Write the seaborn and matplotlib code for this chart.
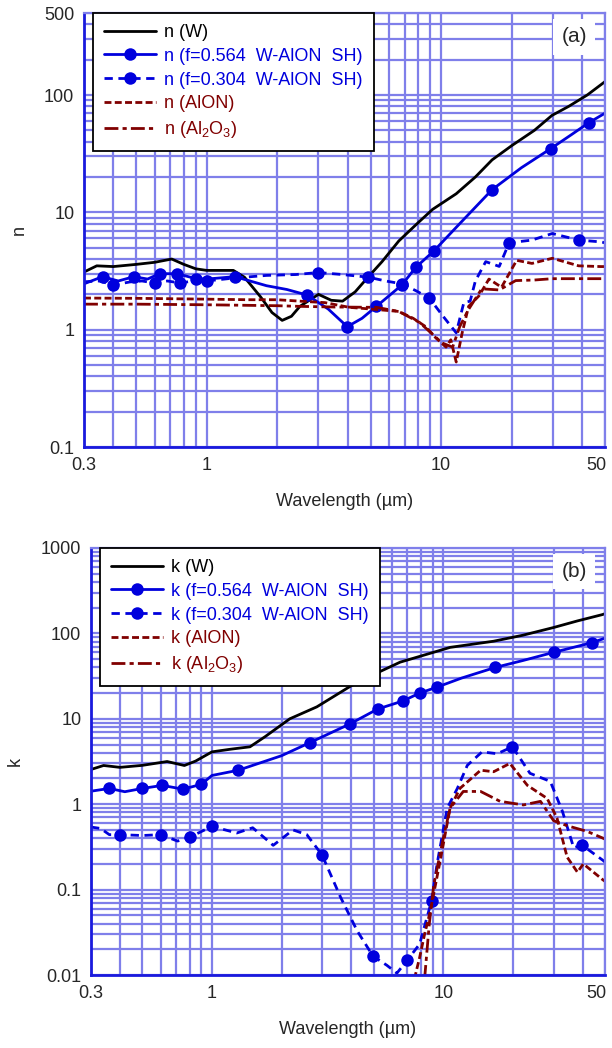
import numpy as np
import matplotlib
matplotlib.use("Agg")
import matplotlib.pyplot as plt
from matplotlib.ticker import LogLocator, NullFormatter, FixedLocator, FixedFormatter
from matplotlib.transforms import ScaledTranslation
import seaborn as sns

# ---- panel (a): refractive index n ----
nW_wl = [0.3, 0.34, 0.4, 0.5, 0.6, 0.71, 0.8, 0.9, 1.0, 1.15, 1.3, 1.45, 1.7, 1.9, 2.1, 2.3, 2.5,
         3.0, 3.4, 3.8, 4.3, 4.8, 5.6, 6.6, 8.0, 9.2, 11.6, 14, 16.5, 20, 25, 29.7, 35, 42, 50]
nW = [3.1, 3.5, 3.45, 3.6, 3.75, 4.0, 3.6, 3.3, 3.2, 3.2, 3.2, 2.8, 1.9, 1.4, 1.2, 1.3, 1.58,
      2.0, 1.78, 1.75, 2.1, 2.7, 3.8, 5.7, 8.2, 10.6, 14.4, 20, 28, 37, 50, 67, 80, 100, 130]

n564_wl = [0.3, 0.36, 0.42, 0.49, 0.56, 0.63, 0.75, 0.9, 1.0, 1.32, 1.8, 2.2, 2.69, 3.3, 3.98, 4.6,
           5.3, 6.8, 7.8, 9.3, 12, 16.5, 22, 29.4, 36, 42.6, 50]
n564 = [2.46, 2.83, 2.6, 2.83, 2.7, 3.0, 3.0, 2.72, 2.7, 2.83, 2.37, 2.2, 1.97, 1.5, 1.06, 1.25,
        1.58, 2.4, 3.4, 4.67, 8.0, 15.6, 24, 35, 46, 58, 70]
n564_marks = [0.36, 0.49, 0.63, 0.75, 0.9, 1.32, 2.69, 3.98, 5.3, 6.8, 7.8, 9.3, 16.5, 29.4, 42.6]

n304_wl = [0.3, 0.35, 0.4, 0.47, 0.53, 0.6, 0.68, 0.77, 0.88, 1.0, 1.3, 1.8, 2.4, 3.0, 3.8, 4.9,
           5.8, 6.8, 7.8, 8.9, 10.2, 11.6, 12.5, 13.3, 14.0, 15.5, 17.7, 19.5, 24.4, 29.8, 38.6, 48, 50]
n304 = [2.56, 2.6, 2.4, 2.55, 2.6, 2.5, 2.6, 2.5, 2.6, 2.6, 2.75, 2.9, 2.95, 3.07, 2.95, 2.8,
        2.6, 2.46, 2.15, 1.86, 1.3, 0.94, 1.7, 1.75, 2.6, 3.8, 3.46, 5.5, 5.8, 6.6, 5.8, 5.6, 5.5]
n304_marks = [0.4, 0.6, 0.77, 1.0, 3.0, 4.9, 6.8, 8.9, 19.5, 38.6]

nAlON_wl = [0.3, 0.5, 1.0, 1.5, 2.0, 2.5, 3.2, 4.06, 5.0, 6.6, 7.6, 8.6, 9.5, 10.5, 11.0, 11.6,
            12.3, 13.1, 14.5, 16.0, 18.1, 21, 24.4, 29.8, 38.6, 48, 50]
nAlON = [1.86, 1.85, 1.82, 1.8, 1.8, 1.75, 1.7, 1.55, 1.5, 1.43, 1.25, 1.06, 0.85, 0.71, 0.82, 0.53,
         0.94, 1.58, 1.94, 2.7, 2.3, 3.9, 3.67, 4.06, 3.5, 3.45, 3.45]

nAl2O3_wl = [0.3, 0.5, 1.0, 2.0, 2.5, 3.5, 5.3, 6.6, 8.1, 9.0, 10.1, 11.2, 12.0, 13.1, 14.9, 17.7,
             20.8, 25, 29.8, 40, 50]
nAl2O3 = [1.65, 1.65, 1.63, 1.6, 1.58, 1.56, 1.55, 1.43, 1.15, 0.95, 0.77, 0.71, 1.06, 1.49, 2.23, 2.18,
          2.62, 2.65, 2.72, 2.72, 2.72]

# ---- panel (b): extinction coefficient k ----
kW_wl = [0.3, 0.34, 0.4, 0.5, 0.64, 0.76, 0.85, 1.0, 1.2, 1.46, 1.7, 2.17, 2.84, 3.96, 5.0, 6.5,
         8.5, 10.7, 16.5, 22, 29.9, 38, 48.7, 50]
kW = [2.55, 2.84, 2.7, 2.85, 3.16, 2.84, 3.2, 4.1, 4.4, 4.7, 6.2, 10, 13.8, 24, 33, 46,
      57, 68.6, 81, 95, 117, 140, 166, 170]

k564_wl = [0.3, 0.36, 0.42, 0.5, 0.61, 0.75, 0.9, 1.0, 1.3, 2.0, 2.65, 3.96, 5.2, 6.7, 7.9, 9.4,
           12, 16.8, 22, 30, 44, 50]
k564 = [1.42, 1.53, 1.4, 1.53, 1.66, 1.5, 1.71, 2.17, 2.5, 3.7, 5.26, 8.75, 13, 16.2, 20, 23.5,
        30, 40, 48, 60, 78, 88]
k564_marks = [0.36, 0.5, 0.61, 0.75, 0.9, 1.3, 2.65, 3.96, 5.2, 6.7, 7.9, 9.4, 16.8, 30, 44]

k304_wl = [0.3, 0.33, 0.36, 0.4, 0.5, 0.6, 0.71, 0.8, 1.0, 1.28, 1.5, 1.84, 2.24, 2.57, 2.99, 3.6,
           4.24, 4.97, 5.7, 6.3, 7.0, 7.9, 8.9, 9.4, 10.4, 11.5, 12.7, 14.7, 17.1, 19.9, 23.7, 29.0,
           32.7, 36.6, 39.9, 49, 50]
k304 = [0.54, 0.52, 0.44, 0.44, 0.43, 0.44, 0.37, 0.41, 0.55, 0.46, 0.53, 0.33, 0.5, 0.44, 0.255, 0.081,
        0.033, 0.0166, 0.013, 0.0105, 0.015, 0.023, 0.074, 0.2, 0.9, 1.53, 2.85, 4.1, 3.9, 4.7, 2.3, 1.85,
        0.83, 0.31, 0.33, 0.22, 0.21]
k304_marks = [0.4, 0.6, 0.8, 1.0, 2.99, 4.97, 7.0, 8.9, 19.9, 39.9]

kAlON_wl = [7.5, 7.9, 8.3, 8.8, 9.7, 10.7, 11.8, 14.5, 16.5, 19.4, 23.1, 28.1, 31, 34.3, 38, 40.3, 49, 50]
kAlON = [0.009, 0.016, 0.03, 0.057, 0.22, 0.9, 1.53, 2.5, 2.4, 3.0, 1.66, 1.17, 0.69, 0.24, 0.16, 0.2,
         0.13, 0.125]

kAl2O3_wl = [8.3, 8.7, 9.1, 10.0, 10.7, 12.2, 14.5, 17.6, 22.2, 26.3, 30, 34.3, 41.9, 49, 50]
kAl2O3 = [0.009, 0.04, 0.115, 0.4, 0.9, 1.41, 1.41, 1.08, 0.98, 1.08, 0.64, 0.56, 0.48, 0.4, 0.39]

sns.set_style("white")
plt.rcParams['font.family'] = ['Liberation Sans', 'DejaVu Sans']
plt.rcParams['mathtext.fontset'] = 'custom'
plt.rcParams['mathtext.rm'] = 'Liberation Sans'
plt.rcParams['mathtext.it'] = 'Liberation Sans'

BLUE = '#0000dd'
RED = '#800000'
GRID = '#7f7fea'
FS = 13


def mark_idx(wl, marks):
    return [i for i, w in enumerate(wl) if w in marks]


def draw(ax, q, series, ylim, yticks, panel):
    (w_wl, w_v), (a_wl, a_v, a_m), (b_wl, b_v, b_m), (c_wl, c_v), (d_wl, d_v) = series
    kw = dict(ax=ax, sort=False, estimator=None)
    sns.lineplot(x=w_wl, y=w_v, color='black', lw=2.0, label=f'{q} (W)', **kw)
    sns.lineplot(x=a_wl, y=a_v, color=BLUE, lw=2.0, marker='o', ms=9, mew=0,
                 markevery=mark_idx(a_wl, a_m), label=f'{q} (f=0.564  W-AlON  SH)', **kw)
    sns.lineplot(x=b_wl, y=b_v, color=BLUE, lw=2.0, marker='o', ms=9, mew=0, dashes=(3, 2),
                 markevery=mark_idx(b_wl, b_m), label=f'{q} (f=0.304  W-AlON  SH)', **kw)
    sns.lineplot(x=c_wl, y=c_v, color=RED, lw=2.0, dashes=(2.5, 1.2), label=f'{q} (AlON)', **kw)
    sns.lineplot(x=d_wl, y=d_v, color=RED, lw=2.0, dashes=(5, 1.5, 1.5, 1.5),
                 label=f'{q} (Al$_2$O$_3$)', **kw)

    ax.set_xscale('log')
    ax.set_yscale('log')
    ax.set_xlim(0.3, 50)
    ax.set_ylim(*ylim)

    ax.xaxis.set_major_locator(FixedLocator([0.3, 1, 10, 50]))
    ax.xaxis.set_major_formatter(FixedFormatter(['0.3', '1', '10', '50']))
    ax.xaxis.set_minor_locator(LogLocator(base=10, subs=np.arange(1, 10), numticks=50))
    ax.xaxis.set_minor_formatter(NullFormatter())
    ax.yaxis.set_major_locator(FixedLocator(yticks))
    ax.yaxis.set_major_formatter(FixedFormatter([('%g' % v) for v in yticks]))
    ax.yaxis.set_minor_locator(LogLocator(base=10, subs=np.arange(1, 10), numticks=50))
    ax.yaxis.set_minor_formatter(NullFormatter())

    ax.grid(True, which='both', color=GRID, lw=1.6)
    ax.set_axisbelow(True)
    ax.tick_params(which='both', direction='in', color=BLUE, labelsize=FS, pad=7)
    ax.tick_params(which='major', length=6, width=1.2)
    ax.tick_params(which='minor', length=3, width=1.0)
    for s in ['left', 'bottom']:
        ax.spines[s].set_color('#1a1add')
        ax.spines[s].set_linewidth(2.0)
    for s in ['top', 'right']:
        ax.spines[s].set_color(GRID)
        ax.spines[s].set_linewidth(1.6)

    # pull the last x label ("50") inside the figure edge
    fig.canvas.draw()
    last = ax.get_xticklabels()[-1]
    last.set_transform(last.get_transform() + ScaledTranslation(-6 / 72, 0, fig.dpi_scale_trans))

    ax.set_xlabel('Wavelength (\u00b5m)', fontsize=FS, labelpad=14)
    ax.set_ylabel(q, fontsize=FS, labelpad=12)

    leg = ax.legend(loc='upper left', bbox_to_anchor=(0.017, 1.0), borderaxespad=0,
                    fontsize=FS, handlelength=2.9, handletextpad=0.45, labelspacing=0.38,
                    borderpad=0.6, fancybox=False, framealpha=1, edgecolor='black',
                    labelcolor='linecolor')
    leg.get_frame().set_linewidth(1.3)

    ax.text(0.965, 0.945, panel, transform=ax.transAxes, ha='right', va='center', fontsize=FS + 2,
            bbox=dict(facecolor='white', edgecolor='none', pad=6))


fig = plt.figure(figsize=(6.12, 10.48), dpi=100)
ax_a = fig.add_axes([84 / 612, 1 - 447 / 1048, 521 / 612, 434 / 1048])
ax_b = fig.add_axes([91 / 612, 1 - 975 / 1048, 514 / 612, 427 / 1048])

draw(ax_a, 'n',
     [(nW_wl, nW), (n564_wl, n564, n564_marks), (n304_wl, n304, n304_marks),
      (nAlON_wl, nAlON), (nAl2O3_wl, nAl2O3)],
     (0.1, 500), [0.1, 1, 10, 100, 500], '(a)')
draw(ax_b, 'k',
     [(kW_wl, kW), (k564_wl, k564, k564_marks), (k304_wl, k304, k304_marks),
      (kAlON_wl, kAlON), (kAl2O3_wl, kAl2O3)],
     (0.01, 1000), [0.01, 0.1, 1, 10, 100, 1000], '(b)')

fig.savefig('out.png', dpi=100)
